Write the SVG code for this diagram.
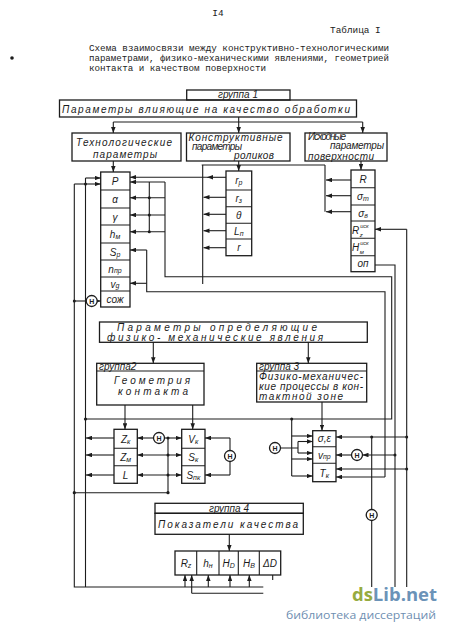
<svg xmlns="http://www.w3.org/2000/svg" width="450" height="634" viewBox="0 0 450 634">
<defs>
<marker id="a" viewBox="0 0 8 6" refX="8" refY="3" markerWidth="6" markerHeight="4.5" markerUnits="userSpaceOnUse" orient="auto-start-reverse"><path d="M0,0 L8,3 L0,6 z" fill="#1c1c1c"/></marker>
<style>
.bx{fill:none;stroke:#1c1c1c;stroke-width:1.3}
.ln{fill:none;stroke:#1c1c1c;stroke-width:1.1}
.ar{fill:none;stroke:#1c1c1c;stroke-width:1.1;marker-end:url(#a)}
.ar2{fill:none;stroke:#1c1c1c;stroke-width:1.1;marker-end:url(#a);marker-start:url(#a)}
.dot{fill:#1c1c1c}
.hc{fill:#fff;stroke:#1c1c1c;stroke-width:1.3}
.t{font-family:"Liberation Sans","DejaVu Sans",sans-serif;font-style:italic;font-size:10px;fill:#1c1c1c}
.c{text-anchor:middle}
.s{font-size:7px}
.h{font-family:"Liberation Sans",sans-serif;font-weight:bold;font-size:7px;fill:#1c1c1c;text-anchor:middle}
.tw{font-family:"Liberation Mono","DejaVu Sans Mono",monospace;font-size:9.4px;fill:#222}
</style>
</defs>
<rect width="450" height="634" fill="#fff"/>

<g id="header">
<text class="tw" x="218" y="16" text-anchor="middle" font-size="10">I4</text>
<text class="tw" x="330" y="33">Таблица I</text>
<text class="tw" x="89" y="51" textLength="300" lengthAdjust="spacingAndGlyphs">Схема взаимосвязи между конструктивно-технологическими</text>
<text class="tw" x="89" y="61" textLength="300" lengthAdjust="spacingAndGlyphs">параметрами, физико-механическими явлениями, геометрией</text>
<text class="tw" x="89" y="71" textLength="177" lengthAdjust="spacingAndGlyphs">контакта и качеством поверхности</text>
<circle cx="12" cy="58" r="1.8" class="dot"/>
</g>

<g id="group1">
<rect class="bx" x="186.7" y="90" width="103.3" height="10"/>
<text class="t c" x="238" y="98.3" font-size="8.5">группа 1</text>
<rect class="bx" x="59.5" y="100" width="297" height="17"/>
<text class="t" x="62" y="112.5" font-size="11" textLength="288" lengthAdjust="spacing">Параметры влияющие  на  качество    обработки</text>
</g>

<g id="tech">
<rect class="bx" x="72" y="133" width="109" height="28"/>
<text class="t" x="76" y="145.5" font-size="9.5" textLength="96" lengthAdjust="spacing">Технологические</text>
<text class="t" x="93" y="157.5" font-size="9.5" textLength="64" lengthAdjust="spacing">параметры</text>
</g>
<g id="constr">
<rect class="bx" x="186.5" y="133" width="103.5" height="28"/>
<text class="t" x="188.5" y="140.5" font-size="7.4" textLength="94" lengthAdjust="spacing">Конструктивные</text>
<text class="t" x="192" y="150" font-size="7.4" textLength="50" lengthAdjust="spacing">параметры</text>
<text class="t" x="234" y="159.3" font-size="7.4" textLength="40" lengthAdjust="spacing">роликов</text>
</g>
<g id="initial">
<rect class="bx" x="305" y="133" width="82" height="28"/>
<text class="t" x="308" y="140" font-size="7.2" textLength="38" lengthAdjust="spacing">Исходные</text>
<text class="t" x="330" y="149.3" font-size="7.2" textLength="54" lengthAdjust="spacing">параметры</text>
<text class="t" x="308" y="159.6" font-size="7.2" textLength="66" lengthAdjust="spacing">поверхности</text>
</g>

<g id="tech-stack">
<rect class="bx" x="100.7" y="172" width="29.3" height="135"/>
<path class="ln" d="M100.7 190H130M100.7 208H130M100.7 225H130M100.7 243H130M100.7 260H130M100.7 277H130M100.7 291H130"/>
<text class="t c" x="115" y="185" font-size="11">P</text>
<text class="t c" x="115" y="203" font-size="11">α</text>
<text class="t c" x="115" y="221" font-size="11">γ</text>
<text class="t c" x="115" y="238" font-size="11">h<tspan class="s" dy="1">м</tspan></text>
<text class="t c" x="115" y="256" font-size="11">S<tspan class="s" dy="1">p</tspan></text>
<text class="t c" x="115" y="273">n<tspan class="s">пр</tspan></text>
<text class="t c" x="115" y="288">v<tspan class="s">g</tspan></text>
<text class="t c" x="115" y="303" font-size="9">сож</text>
</g>

<g id="roller-stack">
<rect class="bx" x="226" y="171" width="25.7" height="84.7"/>
<path class="ln" d="M226 190H251.7M226 206.7H251.7M226 223.3H251.7M226 239H251.7"/>
<text class="t c" x="238.8" y="184">r<tspan class="s" dy="1">р</tspan></text>
<text class="t c" x="238.8" y="202">r<tspan class="s" dy="1">з</tspan></text>
<text class="t c" x="238.8" y="219">θ</text>
<text class="t c" x="238.8" y="235">L<tspan class="s" dy="1">п</tspan></text>
<text class="t c" x="238.8" y="251">r</text>
</g>

<g id="surface-stack">
<rect class="bx" x="351" y="170" width="24" height="101.7"/>
<path class="ln" d="M351 187.7H375M351 205H375M351 221H375M351 238.3H375M351 255.7H375"/>
<text class="t c" x="363" y="183" font-size="11">R</text>
<text class="t c" x="363" y="200" font-size="11">σ<tspan class="s" dy="1">т</tspan></text>
<text class="t c" x="363" y="217" font-size="11">σ<tspan class="s" dy="1">в</tspan></text>
<text class="t" x="352" y="234" font-size="9">R<tspan font-size="5.5" dx="1" dy="-6.5">иск</tspan><tspan font-size="6" dx="-9" dy="9.5">z</tspan></text>
<text class="t" x="352" y="251" font-size="9">H<tspan font-size="5.5" dx="1" dy="-6.5">иск</tspan><tspan font-size="6" dx="-9" dy="9.5">м</tspan></text>
<text class="t c" x="363" y="267" font-size="10">оп</text>
</g>

<g id="phys-params">
<rect class="bx" x="99.5" y="322" width="267.8" height="20.3"/>
<text class="t" x="117" y="331" font-size="9.5" textLength="200" lengthAdjust="spacing">Параметры    определяющие</text>
<text class="t" x="107" y="340.5" font-size="9.5" textLength="216" lengthAdjust="spacing">физико- механические   явления</text>
</g>

<g id="group2">
<rect class="bx" x="96.7" y="363.3" width="107.3" height="41.7"/>
<path class="ln" d="M96.7 371H204"/>
<text class="t" x="99" y="369.8" font-size="7.5">группа2</text>
<text class="t" x="114" y="384" font-size="10.5" textLength="76" lengthAdjust="spacing">Геометрия</text>
<text class="t" x="118" y="395" font-size="10.5" textLength="70" lengthAdjust="spacing">контакта</text>
</g>

<g id="group3">
<rect class="bx" x="256.7" y="363.3" width="110" height="38.7"/>
<path class="ln" d="M256.7 371H366.7"/>
<text class="t" x="259" y="369.8" font-size="7.5">группа 3</text>
<text class="t" x="259" y="379.5" font-size="8.5" textLength="104" lengthAdjust="spacing">Физико-механичес-</text>
<text class="t" x="259" y="389.5" font-size="8.5" textLength="104" lengthAdjust="spacing">кие процессы в кон-</text>
<text class="t" x="259" y="399.5" font-size="8.5" textLength="84" lengthAdjust="spacing">тактной  зоне</text>
</g>

<g id="geom-left">
<rect class="bx" x="114" y="429.3" width="23.3" height="54"/>
<path class="ln" d="M114 448.3H137.3M114 465.7H137.3"/>
<text class="t c" x="125.6" y="443">Z<tspan class="s" dy="1">к</tspan></text>
<text class="t c" x="125.6" y="461">Z<tspan class="s" dy="1">м</tspan></text>
<text class="t c" x="125.6" y="479">L</text>
</g>
<g id="geom-right">
<rect class="bx" x="181.7" y="429.3" width="23.3" height="54"/>
<path class="ln" d="M181.7 448.3H205M181.7 465.7H205"/>
<text class="t c" x="193.3" y="443">V<tspan class="s" dy="1">к</tspan></text>
<text class="t c" x="193.3" y="461">S<tspan class="s" dy="1">к</tspan></text>
<text class="t c" x="193.3" y="479">S<tspan class="s" dy="1">пк</tspan></text>
</g>

<g id="proc-stack">
<rect class="bx" x="312.7" y="430.7" width="23.3" height="51"/>
<path class="ln" d="M312.7 446.7H336M312.7 463.3H336"/>
<text class="t c" x="324.3" y="442" font-size="9.5">σ,ε</text>
<text class="t c" x="324.3" y="459" font-size="9.5">v<tspan class="s">пр</tspan></text>
<text class="t c" x="324.3" y="477" font-size="9.5">T<tspan class="s" dy="1">к</tspan></text>
</g>

<g id="group4">
<rect class="bx" x="155" y="503.3" width="148.3" height="10"/>
<text class="t c" x="229" y="511.6" font-size="8.5">группа 4</text>
<rect class="bx" x="155" y="513.3" width="148.3" height="21"/>
<text class="t" x="158" y="527.8" font-size="10.5" textLength="140" lengthAdjust="spacing">Показатели качества</text>
</g>

<g id="quality">
<rect class="bx" x="175" y="551" width="105.7" height="24"/>
<path class="ln" d="M196.7 551V575M219 551V575M238.3 551V575M259.3 551V575"/>
<text class="t c" x="186" y="567" font-size="11">R<tspan class="s" dy="1">z</tspan></text>
<text class="t c" x="208" y="567" font-size="11">h<tspan class="s" dy="1">н</tspan></text>
<text class="t c" x="228.6" y="567" font-size="11">H<tspan class="s" dy="1">D</tspan></text>
<text class="t c" x="249" y="567" font-size="11">H<tspan class="s" dy="1">B</tspan></text>
<text class="t c" x="270" y="567" font-size="10">ΔD</text>
</g>

<g id="connectors">
<path class="ln" d="M238.7 117V122M113.3 122H362.7"/>
<path class="ar" d="M113.3 122V133"/>
<path class="ar" d="M238.7 122V133"/>
<path class="ar" d="M362.7 122V133"/>
<path class="ar" d="M113.3 161V172"/>
<path class="ar" d="M238.7 161V171"/>
<path class="ar" d="M361 161V170"/>
<path class="ln" d="M201.7 165H325M202.7 165V284M325 165V211.7"/>
<path class="ar" d="M226 177.3H207"/>
<path class="ar" d="M207 177.3H130"/>
<path class="ar" d="M226 197.3H203.5"/>
<path class="ar" d="M226 214.3H203.5"/>
<path class="ar" d="M226 230.7H203.5"/>
<path class="ar" d="M226 247.7H203.5"/>
<path class="ar" d="M351 180H326"/>
<path class="ar" d="M351 195.7H326"/>
<path class="ar" d="M351 211.7H326"/>
<path class="ln" d="M165 182V276.7H391.7V419H85.5M149.3 182V231.7"/>
<path class="ar" d="M165 182H130"/>
<path class="ar" d="M165 197.7H130"/>
<path class="ar" d="M165 215H130"/>
<path class="ar" d="M165 231.7H130"/>
<circle class="dot" cx="149.3" cy="197.7" r="1.5"/>
<circle class="dot" cx="149.3" cy="215" r="1.5"/>
<circle class="dot" cx="149.3" cy="231.7" r="1.5"/>
<path class="ln" d="M146.7 250V291.7H385V477"/>
<path class="ar" d="M146.7 250H130"/>
<path class="ar" d="M146.7 283.3H130"/>
<path class="ar" d="M385 477H336"/>
<path class="ln" d="M406.7 229.3V587M375 265H395V587"/>
<path class="ar" d="M406.7 229.3H375"/>
<path class="ln" d="M74.3 184V587H263.3M85.5 178V587M191.7 593.3H263.3"/>
<path class="ar" d="M85.5 178H100.7"/>
<path class="ar" d="M74.3 184H100.7"/>
<circle class="dot" cx="85.5" cy="184" r="1.5"/>
<path class="ln" d="M74.3 301H86.2"/>
<path class="ar" d="M97.2 301H100.7"/>
<circle class="dot" cx="74.3" cy="301" r="1.5"/>
<circle class="hc" cx="91.7" cy="301" r="5.5" stroke-width="1.7"/>
<text class="h" x="91.7" y="303.6">H</text>
<path class="ar" d="M153.3 342.3V363.3"/>
<path class="ar" d="M308.3 342.3V363.3"/>
<path class="ar" d="M125 405V429.3"/>
<path class="ar" d="M192.7 405V429.3"/>
<path class="ar" d="M322 402V430.7"/>
<circle class="dot" cx="85.5" cy="419" r="1.6"/>
<path class="ar" d="M114 438H86"/>
<path class="ar" d="M114 455H86"/>
<path class="ar" d="M114 475H86"/>
<path class="ar" d="M153.5 438H137.3"/>
<path class="ar" d="M164.5 438H181.7"/>
<circle class="hc" cx="159" cy="438" r="5.5"/>
<text class="h" x="159" y="440.6">H</text>
<path class="ar2" d="M137.3 455H181.7"/>
<path class="ar2" d="M137.3 475H181.7"/>
<path class="ln" d="M168 438V492.7H74.3"/>
<circle class="dot" cx="168" cy="438" r="1.5"/>
<circle class="dot" cx="168" cy="455" r="1.5"/>
<circle class="dot" cx="168" cy="475" r="1.5"/>
<circle class="dot" cx="168" cy="492.7" r="1.6"/>
<circle class="dot" cx="74.3" cy="492.7" r="1.6"/>
<path class="ln" d="M230 438V475"/>
<path class="ar" d="M230 438H205"/>
<path class="ar" d="M230 475H205"/>
<circle class="hc" cx="230" cy="456" r="5.5"/>
<text class="h" x="230" y="458.6">H</text>
<path class="ln" d="M291.7 419V476"/>
<circle class="dot" cx="291.7" cy="419" r="1.5"/>
<path class="ar" d="M291.7 436H312.7"/>
<path class="ar" d="M291.7 459H312.7"/>
<path class="ar" d="M291.7 476H312.7"/>
<path class="ln" d="M280.5 448H298M298 441.5V453"/>
<path class="ar" d="M298 441.5H312.7"/>
<path class="ar" d="M298 453H312.7"/>
<circle class="hc" cx="275" cy="448" r="5.5"/>
<text class="h" x="275" y="450.6">H</text>
<path class="ar" d="M406.7 437H336"/>
<circle class="dot" cx="371.7" cy="437" r="1.5"/>
<circle class="dot" cx="406.7" cy="437" r="1.5"/>
<path class="ar" d="M351.5 455H336"/>
<path class="ar" d="M395 455H362.5"/>
<circle class="dot" cx="395" cy="455" r="1.5"/>
<circle class="hc" cx="357" cy="455" r="5.5"/>
<text class="h" x="357" y="457.6">H</text>
<path class="ar" d="M406.7 469H336"/>
<circle class="dot" cx="406.7" cy="469" r="1.5"/>
<path class="ln" d="M371.7 437V587"/>
<circle class="hc" cx="371.7" cy="515" r="5.5"/>
<text class="h" x="371.7" y="517.6">H</text>
<path class="ar" d="M229.3 534.3V551"/>
<path class="ar" d="M185 587V575"/>
<path class="ar" d="M191.7 593.3V575"/>
<path class="ar" d="M208.3 587V575"/>
<path class="ar" d="M230 587V575"/>
<path class="ar" d="M249.3 587V575"/>
<path class="ln" d="M272.7 575V580"/>
</g>

<g id="watermark">
<text x="352" y="601" font-family="'Open Sans','DejaVu Sans',sans-serif" font-weight="bold" font-size="18" textLength="85" lengthAdjust="spacingAndGlyphs"><tspan fill="#97ab3f">ds</tspan><tspan fill="#6b93b8">Lib.net</tspan></text>
<text x="286" y="619" font-family="'Open Sans','DejaVu Sans',sans-serif" font-size="11.5" fill="#6f8fb2" textLength="150" lengthAdjust="spacingAndGlyphs">библиотека диссертаций</text>
</g>
</svg>
